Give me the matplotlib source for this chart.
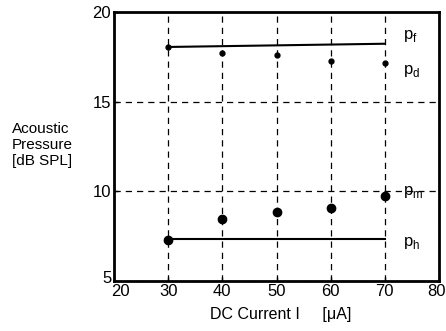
import numpy as np
import matplotlib
matplotlib.use('Agg')
import matplotlib.pyplot as plt
import matplotlib.transforms as mtrans

plt.rcParams['font.family'] = ['Liberation Sans', 'DejaVu Sans']

# data
current = [30, 40, 50, 60, 70]
p_f = [18.05, 18.23]          # line from 30 to 70
p_f_x = [30, 70]
p_d = [18.05, 17.73, 17.6, 17.28, 17.15]
p_m = [7.28, 8.44, 8.86, 9.05, 9.74]
p_h = [7.33, 7.33]
p_h_x = [30, 70]

xticks = [20, 30, 40, 50, 60, 70, 80]
yticks = [5, 10, 15, 20]

fig = plt.figure(figsize=(4.46, 3.31), dpi=100)
ax = fig.add_axes([114/446, 1-281/331, 325/446, 269/331])

ax.plot(p_f_x, p_f, 'k-', lw=1.5)
ax.plot(p_h_x, p_h, 'k-', lw=1.5)
ax.plot(current, p_d, 'ko', ms=3.5)
ax.plot(current, p_m, 'ko', ms=6)

ax.set_xlim(20, 80)
ax.set_ylim(5, 20)
ax.set_xticks(xticks)
ax.set_yticks(yticks)
ax.grid(True, color='k', ls=(0, (5, 4)), lw=0.9)
ax.tick_params(direction='in', length=3, labelsize=12, width=1, pad=2)
for s in ax.spines.values():
    s.set_linewidth(2)

# nudge corner tick labels like the original
def nudge(t, dx, dy):
    t.set_transform(t.get_transform()
                    + mtrans.ScaledTranslation(dx/100, dy/100, fig.dpi_scale_trans))

nudge(ax.get_xticklabels()[0], 6, 0)
nudge(ax.get_xticklabels()[-1], -3, 0)
nudge(ax.get_yticklabels()[0], 0, 4)

# series labels
lab = dict(fontsize=12, ha='left', va='center')
ax.text(73.4, 18.65, r'p$_{\mathregular{f}}$', **lab)
ax.text(73.4, 16.7, r'p$_{\mathregular{d}}$', **lab)
ax.text(73.4, 9.95, r'p$_{\mathregular{m}}$', **lab)
ax.text(73.4, 7.1, r'p$_{\mathregular{h}}$', **lab)

fig.text(12/446, 1-145/331, 'Acoustic\nPressure\n[dB SPL]', fontsize=11,
         ha='left', va='center', linespacing=1.2)
fig.text(281/446, 1-315/331, 'DC Current I     [\u03bcA]', fontsize=11.5,
         ha='center', va='center')

fig.savefig('out.png', dpi=100)
